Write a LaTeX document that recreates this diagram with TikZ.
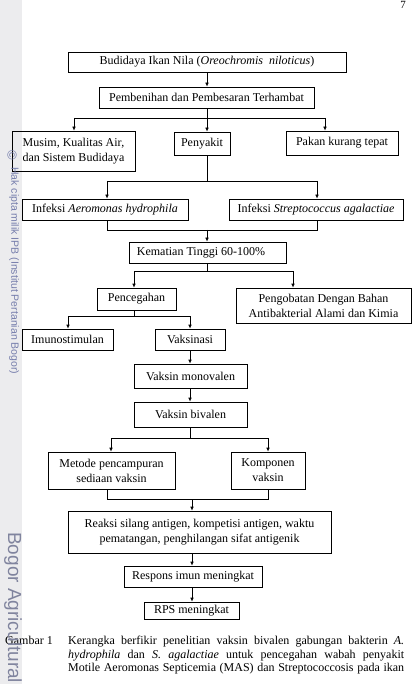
\documentclass[tikz,border=0pt]{standalone}
\usepackage{fontspec}
\setmainfont{Liberation Serif}
\newfontfamily\wmfont{Liberation Sans}
\usetikzlibrary{arrows.meta}
\definecolor{wmblue}{RGB}{118,126,172}
\definecolor{wmgrey}{RGB}{128,132,158}
\definecolor{strip}{RGB}{236,236,238}
\begin{document}
\begin{tikzpicture}[x=1pt,y=-1pt,
  box/.style={draw, line width=0.7pt, inner sep=0pt, align=center,
    font=\fontsize{12}{15}\selectfont},
  arr/.style={-{Latex[length=4pt,width=3.6pt]}, line width=0.7pt},
  ln/.style={line width=0.7pt}]
\useasboundingbox (0,0) rectangle (412,684);
\fill[strip] (0,0) rectangle (22,684);
% page number
\node[anchor=base, inner sep=0pt, font=\fontsize{11}{13}\selectfont] (pg) at (403,9) {7};
% boxes
\node[box, minimum width=278pt, minimum height=20pt] (b1) at (207,62) {Budidaya Ikan Nila (\textit{Oreochromis\ \ niloticus})};
\node[box, minimum width=215pt, minimum height=21pt] (b2) at (206.5,97.5) {Pembenihan dan Pembesaran Terhambat};
\node[box, minimum width=123pt, minimum height=40pt] (b3) at (73.5,151) {Musim, Kualitas Air,\\dan Sistem Budidaya};
\node[box, minimum width=56pt, minimum height=23pt] (b4) at (202,143.5) {Penyakit};
\node[box, minimum width=112pt, minimum height=24pt] (b5) at (342,143) {Pakan kurang tepat};
\node[box, minimum width=166pt, minimum height=21pt] (b6) at (105,209.5) {Infeksi \textit{Aeromonas hydrophila}};
\node[box, minimum width=174pt, minimum height=21pt] (b7) at (316,209.5) {Infeksi \textit{Streptococcus agalactiae}};
\node[box, minimum width=157pt, minimum height=21pt] (b8) at (207.5,252.5) {Kematian Tinggi 60-100\%\hspace{13pt}};
\node[box, minimum width=79pt, minimum height=22pt] (b9) at (136.5,299) {Pencegahan};
\node[box, minimum width=175pt, minimum height=35pt] (b10) at (323.5,305.5) {Pengobatan Dengan Bahan\\Antibakterial Alami dan Kimia};
\node[box, minimum width=91pt, minimum height=21pt] (b11) at (67.5,339.5) {Imunostimulan};
\node[box, minimum width=70pt, minimum height=21pt] (b12) at (190,339.5) {Vaksinasi};
\node[box, minimum width=113pt, minimum height=24pt] (b13) at (190.5,376) {Vaksin monovalen};
\node[box, minimum width=113pt, minimum height=25pt] (b14) at (190.5,414.5) {Vaksin bivalen};
\node[box, minimum width=127pt, minimum height=37pt] (b15) at (111.5,470.5) {Metode pencampuran\\sediaan vaksin};
\node[box, minimum width=74pt, minimum height=37pt] (b16) at (268,470.5) {Komponen\\vaksin};
\node[box, minimum width=263pt, minimum height=42pt] (b17) at (199.5,532) {Reaksi silang antigen, kompetisi antigen, waktu\\pematangan, penghilangan sifat antigenik};
\node[box, minimum width=138pt, minimum height=21pt] (b18) at (193,576.5) {Respons imun meningkat};
\node[box, minimum width=95pt, minimum height=17pt] (b19) at (191.5,610.5) {RPS meningkat};
% connectors
\draw[arr] (b1.south) -- (b1.south |- b2.north);
\coordinate (j1) at (207,118);
\coordinate (j1l) at (74,118);
\coordinate (j1r) at (325,118);
\draw[ln] (b2.south -| j1) -- (j1);
\draw[ln] (j1l) -- (j1r);
\draw[arr] (j1l) -- (j1l |- b3.north);
\draw[arr] (j1) -- (j1 |- b4.north);
\draw[arr] (j1r) -- (j1r |- b5.north);
\coordinate (j2) at (207,181);
\coordinate (j2l) at (107,181);
\coordinate (j2r) at (317,181);
\draw[ln] (b4.south -| j2) -- (j2);
\draw[ln] (j2l) -- (j2r);
\draw[arr] (j2l) -- (j2l |- b6.north);
\draw[arr] (j2r) -- (j2r |- b7.north);
\coordinate (j3) at (207,230);
\coordinate (j3l) at (107,230);
\coordinate (j3r) at (317,230);
\draw[ln] (b6.south -| j3l) -- (j3l) -- (j3r) -- (b7.south -| j3r);
\draw[arr] (j3) -- (j3 |- b8.north);
\coordinate (j4) at (207,271);
\coordinate (j4l) at (134,271);
\coordinate (j4r) at (293,271);
\draw[ln] (b8.south -| j4) -- (j4);
\draw[ln] (j4l) -- (j4r);
\draw[arr] (j4l) -- (j4l |- b9.north);
\draw[arr] (j4r) -- (j4r |- b10.north);
\coordinate (j5) at (134,316);
\coordinate (j5l) at (68,316);
\coordinate (j5r) at (190,316);
\draw[ln] (b9.south -| j5) -- (j5);
\draw[ln] (j5l) -- (j5r);
\draw[arr] (j5l) -- (j5l |- b11.north);
\draw[arr] (j5r) -- (j5r |- b12.north);
\draw[arr] (b12.south) -- (b12.south |- b13.north);
\draw[arr] (b13.south -| b12.south) -- (b12.south |- b14.north);
\coordinate (j6) at (190,438);
\coordinate (j6l) at (111,438);
\coordinate (j6r) at (268,438);
\draw[ln] (b14.south -| j6) -- (j6);
\draw[ln] (j6l) -- (j6r);
\draw[arr] (j6l) -- (j6l |- b15.north);
\draw[arr] (j6r) -- (j6r |- b16.north);
\coordinate (j7) at (192,499);
\coordinate (j7l) at (107,499);
\coordinate (j7r) at (268,499);
\draw[ln] (b15.south -| j7l) -- (j7l) -- (j7r) -- (b16.south -| j7r);
\draw[arr] (j7) -- (j7 |- b17.north);
\draw[arr] (b17.south -| j7) -- (j7 |- b18.north);
\draw[arr] (b18.south -| j7) -- (j7 |- b19.north);
% caption
\node[anchor=north west, inner sep=0pt, font=\fontsize{12}{13.5}\selectfont] (capno) at (5,636) {Gambar 1};
\node[anchor=north west, inner sep=0pt, text width=336pt, align=justify,
  font=\fontsize{12}{13.5}\selectfont] (cap) at (68,636)
  {\hyphenpenalty=10000\parfillskip=0pt Kerangka berfikir penelitian vaksin bivalen gabungan bakterin \textit{A.}\linebreak
   \textit{hydrophila} dan \textit{S. agalactiae} untuk pencegahan wabah penyakit\linebreak
   Motile Aeromonas Septicemia (MAS) dan Streptococcosis pada ikan\par};
% watermark
\node[rotate=-90, inner sep=0pt, text=wmblue, font=\wmfont\fontsize{13}{13}\selectfont] (wmc) at (12,155) {\textcopyright};
\node[rotate=-90, anchor=south west, inner sep=0pt, text=wmblue, font=\wmfont\fontsize{10.5}{12}\selectfont] (wm1) at (9,167) {Hak cipta milik IPB (Institut Pertanian Bogor)};
\node[rotate=-90, anchor=south west, inner sep=0pt, text=wmgrey, font=\wmfont\fontsize{19}{20}\selectfont] (wm2) at (4,532) {Bogor Agricultural};
\end{tikzpicture}
\end{document}
